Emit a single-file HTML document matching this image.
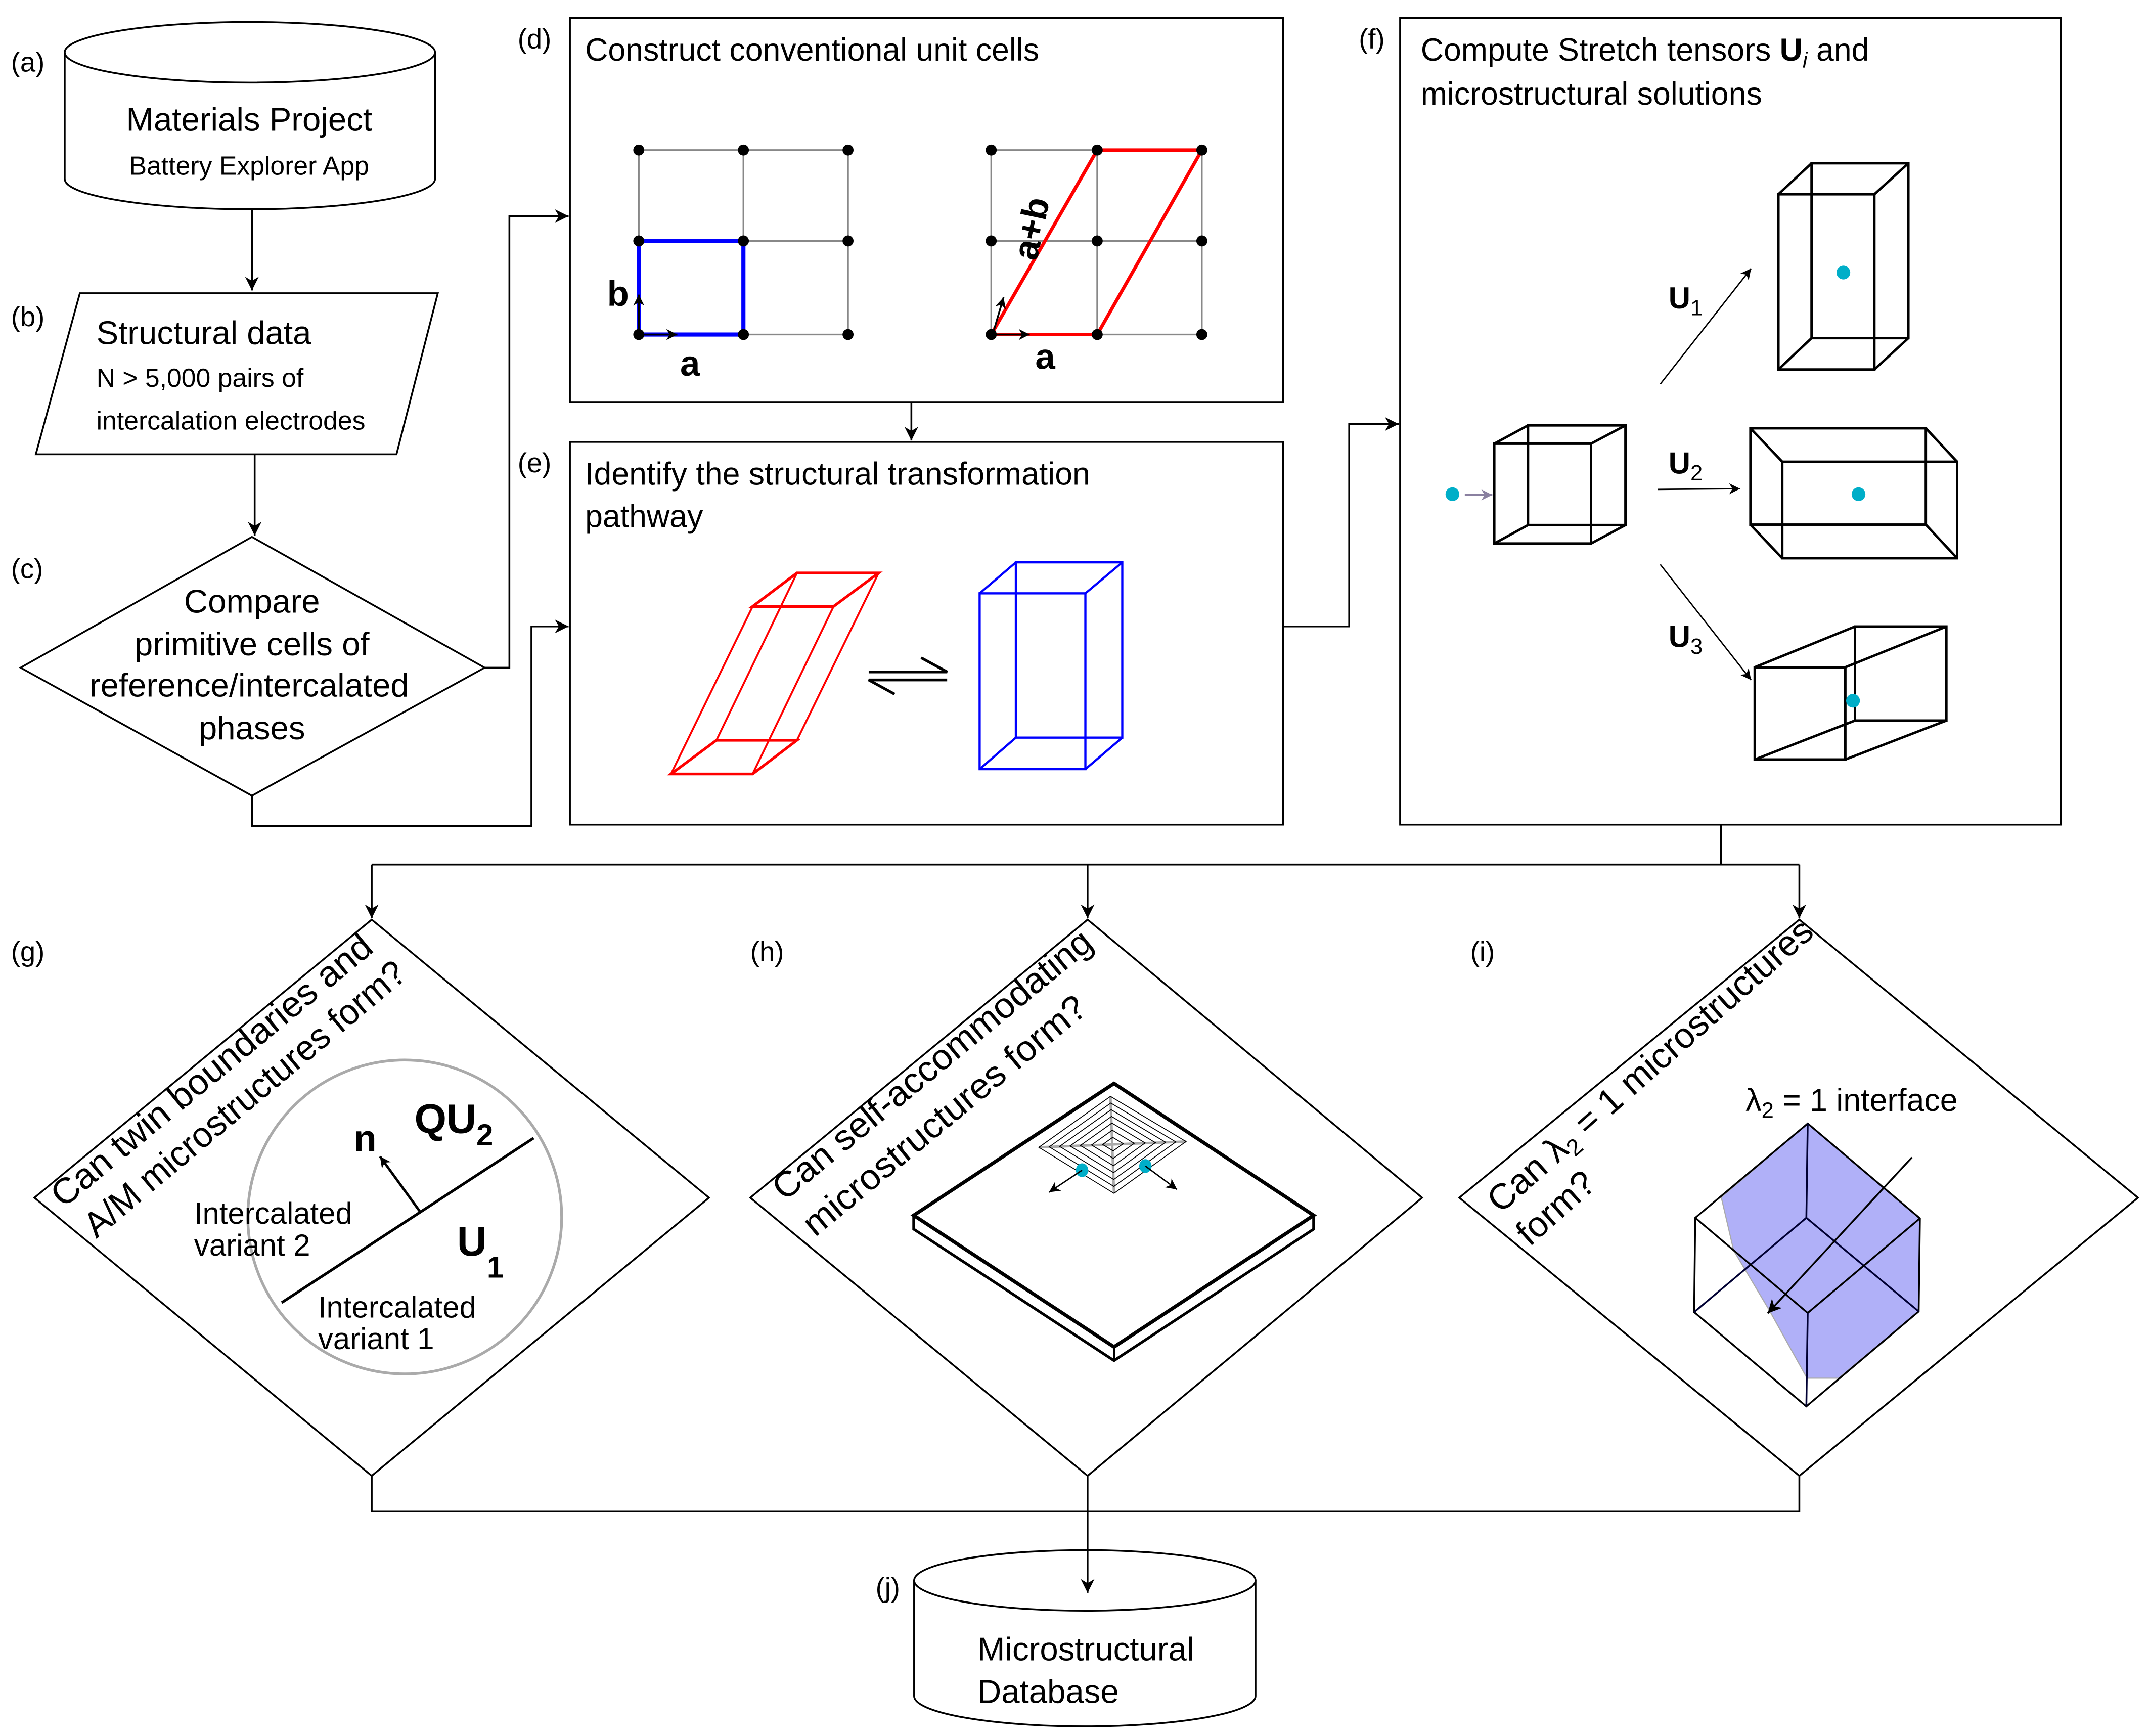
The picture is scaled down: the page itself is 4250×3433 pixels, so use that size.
<!DOCTYPE html>
<html><head><meta charset="utf-8"><style>
html,body{margin:0;padding:0;background:#fff}
svg{display:block}
text{font-family:"Liberation Sans",Arial,sans-serif;fill:#000}
</style></head><body>
<svg width="4250" height="3433" viewBox="0 0 1561 1261" preserveAspectRatio="none" xmlns="http://www.w3.org/2000/svg">
<defs>
<marker id="ah" viewBox="0 0 10 10" refX="10" refY="5" markerWidth="10" markerHeight="10" markerUnits="userSpaceOnUse" orient="auto"><path d="M0,0 L10,5 L0,10 L3,5 Z" fill="#000"/></marker>
<marker id="ahs" viewBox="0 0 10 10" refX="10" refY="5" markerWidth="8" markerHeight="8" markerUnits="userSpaceOnUse" orient="auto"><path d="M0,0 L10,5 L0,10 L3,5 Z" fill="#000"/></marker>
<marker id="ahg" viewBox="0 0 10 10" refX="10" refY="5" markerWidth="8" markerHeight="8" markerUnits="userSpaceOnUse" orient="auto"><path d="M0,0 L10,5 L0,10 L3,5 Z" fill="#8a80a0"/></marker>
</defs>
<g fill="none" stroke="#000" stroke-width="1.3">
<path d="M47,38 L47,130 A134.5,22 0 0 0 316,130 L316,38"/>
<ellipse cx="181.5" cy="38" rx="134.5" ry="22"/>
<line x1="183" y1="152" x2="183" y2="211" marker-end="url(#ah)"/>
<polygon points="58,213 318,213 288,330 26,330"/>
<line x1="185" y1="330" x2="185" y2="389" marker-end="url(#ah)"/>
<polygon points="183,390 352,485 183,578 15,485"/>
<polyline points="352,485 370,485 370,157 413,157" marker-end="url(#ah)"/>
<polyline points="183,578 183,600 386,600 386,455 413,455" marker-end="url(#ah)"/>
<rect x="414" y="13" width="518" height="279"/>
<line x1="662" y1="292" x2="662" y2="320" marker-end="url(#ah)"/>
<rect x="414" y="321" width="518" height="278"/>
<polyline points="932,455 980,455 980,308 1016,308" marker-end="url(#ah)"/>
<rect x="1017" y="13" width="480" height="586"/>
<line x1="1250" y1="599" x2="1250" y2="628"/>
<line x1="270" y1="628" x2="1307" y2="628"/>
<line x1="270" y1="628" x2="270" y2="667" marker-end="url(#ah)"/>
<line x1="790" y1="628" x2="790" y2="667" marker-end="url(#ah)"/>
<line x1="1307" y1="628" x2="1307" y2="667" marker-end="url(#ah)"/>
<polygon points="270,668 515,870 270,1072 25,870"/>
<polygon points="790,668 1033,870 790,1072 545,870"/>
<polygon points="1307,668 1553,870 1307,1072 1060,870"/>
<polyline points="270,1072 270,1098 1307,1098 1307,1072"/>
<line x1="790" y1="1072" x2="790" y2="1157" marker-end="url(#ah)"/>
<path d="M664,1148 L664,1232 A124,22 0 0 0 912,1232 L912,1148"/>
<ellipse cx="788" cy="1148" rx="124" ry="22"/>
</g>

<g font-size="20">
<text x="8" y="52">(a)</text>
<text x="8" y="237">(b)</text>
<text x="8" y="420">(c)</text>
<text x="376" y="35">(d)</text>
<text x="376" y="343">(e)</text>
<text x="987" y="35">(f)</text>
<text x="8" y="698">(g)</text>
<text x="545" y="698">(h)</text>
<text x="1068" y="698">(i)</text>
<text x="636" y="1160">(j)</text>
</g>
<text x="181" y="95" font-size="24" text-anchor="middle">Materials Project</text>
<text x="181" y="127" font-size="19" text-anchor="middle">Battery Explorer App</text>
<text x="70" y="250" font-size="24">Structural data</text>
<text x="70" y="281" font-size="19">N &gt; 5,000 pairs of</text>
<text x="70" y="312" font-size="19">intercalation electrodes</text>
<g font-size="24" text-anchor="middle">
<text x="183" y="445">Compare</text>
<text x="183" y="476">primitive cells of</text>
<text x="181" y="506">reference/intercalated</text>
<text x="183" y="537">phases</text>
</g>
<text x="425" y="44" font-size="23">Construct conventional unit cells</text>
<text x="425" y="352" font-size="23">Identify the structural transformation</text>
<text x="425" y="383" font-size="23">pathway</text>
<text x="1032" y="44" font-size="23">Compute Stretch tensors <tspan font-weight="bold">U</tspan><tspan font-style="italic" font-size="16" dy="5">i</tspan><tspan dy="-5"> and</tspan></text>
<text x="1032" y="76" font-size="23">microstructural solutions</text>
<text x="710" y="1206" font-size="24">Microstructural</text>
<text x="710" y="1237" font-size="24">Database</text>

<g stroke="#888" stroke-width="1.2">
<line x1="464" y1="109" x2="616" y2="109"/><line x1="464" y1="175" x2="616" y2="175"/><line x1="464" y1="243" x2="616" y2="243"/>
<line x1="464" y1="109" x2="464" y2="243"/><line x1="540" y1="109" x2="540" y2="243"/><line x1="616" y1="109" x2="616" y2="243"/>
<line x1="720" y1="109" x2="873" y2="109"/><line x1="720" y1="175" x2="873" y2="175"/><line x1="720" y1="243" x2="873" y2="243"/>
<line x1="720" y1="109" x2="720" y2="243"/><line x1="797" y1="109" x2="797" y2="243"/><line x1="873" y1="109" x2="873" y2="243"/>
</g>
<rect x="464" y="175" width="76" height="68" fill="none" stroke="#0000ff" stroke-width="3"/>
<polygon points="720,243 797,243 873,109 797,109" fill="none" stroke="#ff0000" stroke-width="2.5"/>
<g fill="#000">
<circle cx="464" cy="109" r="4"/><circle cx="540" cy="109" r="4"/><circle cx="616" cy="109" r="4"/>
<circle cx="464" cy="175" r="4"/><circle cx="540" cy="175" r="4"/><circle cx="616" cy="175" r="4"/>
<circle cx="464" cy="243" r="4"/><circle cx="540" cy="243" r="4"/><circle cx="616" cy="243" r="4"/>
<circle cx="720" cy="109" r="4"/><circle cx="797" cy="109" r="4"/><circle cx="873" cy="109" r="4"/>
<circle cx="720" cy="175" r="4"/><circle cx="797" cy="175" r="4"/><circle cx="873" cy="175" r="4"/>
<circle cx="720" cy="243" r="4"/><circle cx="797" cy="243" r="4"/><circle cx="873" cy="243" r="4"/>
</g>
<g stroke="#000" stroke-width="1.3">
<line x1="465" y1="243" x2="492" y2="243" marker-end="url(#ahs)"/>
<line x1="464" y1="243" x2="464" y2="214" marker-end="url(#ahs)"/>
<line x1="721" y1="243" x2="748" y2="243" marker-end="url(#ahs)"/>
<line x1="721" y1="243" x2="729" y2="216" marker-end="url(#ahs)"/>
</g>
<g font-size="26" font-weight="bold">
<text x="441" y="222">b</text>
<text x="494" y="273">a</text>
<text x="752" y="268">a</text>
<text x="0" y="0" transform="translate(753,190) rotate(-78)">a+b</text>
</g>

<g fill="none" stroke="#ff0000" stroke-width="1.4">
<polygon points="487.4,562.2 546.7,562.2 578.9,537.7 520.4,537.7" stroke-width="2"/>
<polygon points="546.7,440.5 605.5,440.5 638.2,416.2 578.9,416.2" stroke-width="2"/>
<line x1="487.4" y1="562.2" x2="546.7" y2="440.5"/>
<line x1="546.7" y1="562.2" x2="605.5" y2="440.5"/>
<line x1="578.9" y1="537.7" x2="638.2" y2="416.2"/>
<line x1="520.4" y1="537.7" x2="578.9" y2="416.2"/>
</g>
<g fill="none" stroke="#0000ff" stroke-width="1.6">
<rect x="711.6" y="431" width="76.8" height="127.7"/>
<rect x="737.9" y="408.5" width="77.3" height="127.3"/>
<line x1="711.6" y1="431" x2="737.9" y2="408.5"/>
<line x1="788.4" y1="431" x2="815.2" y2="408.5"/>
<line x1="711.6" y1="558.7" x2="737.9" y2="535.8"/>
<line x1="788.4" y1="558.7" x2="815.2" y2="535.8"/>
</g>
<g fill="none" stroke="#000" stroke-width="2">
<polyline points="631,488.1 688,488.1 669.1,477.8"/>
<polyline points="688,493.9 631,493.9 649.8,504.2"/>
</g>

<g fill="none" stroke="#000" stroke-width="1.8">
<rect x="1085.4" y="322.3" width="70.3" height="72.5"/>
<rect x="1109.9" y="309" width="70.8" height="72.4"/>
<line x1="1085.4" y1="322.3" x2="1109.9" y2="309"/><line x1="1155.7" y1="322.3" x2="1180.7" y2="309"/>
<line x1="1085.4" y1="394.8" x2="1109.9" y2="381.4"/><line x1="1155.7" y1="394.8" x2="1180.7" y2="381.4"/>
<rect x="1291.8" y="141.1" width="69.7" height="127.3"/>
<rect x="1315.9" y="118.6" width="70.3" height="127"/>
<line x1="1291.8" y1="141.1" x2="1315.9" y2="118.6"/><line x1="1361.5" y1="141.1" x2="1386.2" y2="118.6"/>
<line x1="1291.8" y1="268.4" x2="1315.9" y2="245.6"/><line x1="1361.5" y1="268.4" x2="1386.2" y2="245.6"/>
<rect x="1271.5" y="311.1" width="127.4" height="70"/>
<rect x="1294.6" y="335.4" width="127" height="70.1"/>
<line x1="1271.5" y1="311.1" x2="1294.6" y2="335.4"/><line x1="1398.9" y1="311.1" x2="1421.6" y2="335.4"/>
<line x1="1271.5" y1="381.1" x2="1294.6" y2="405.5"/><line x1="1398.9" y1="381.1" x2="1421.6" y2="405.5"/>
<rect x="1274.6" y="484.7" width="65.8" height="67"/>
<rect x="1347.4" y="455.1" width="66.4" height="68.3"/>
<line x1="1274.6" y1="484.7" x2="1347.4" y2="455.1"/><line x1="1340.4" y1="484.7" x2="1413.8" y2="455.1"/>
<line x1="1274.6" y1="551.7" x2="1347.4" y2="523.4"/><line x1="1340.4" y1="551.7" x2="1413.8" y2="523.4"/>
</g>
<g fill="#00aec8">
<circle cx="1055" cy="359" r="5"/>
<circle cx="1339" cy="198" r="5"/>
<circle cx="1350" cy="359" r="5"/>
<circle cx="1346" cy="509" r="5"/>
</g>
<line x1="1064" y1="359.5" x2="1084" y2="359.5" stroke="#8a80a0" stroke-width="1.3" marker-end="url(#ahg)"/>
<g stroke="#000" stroke-width="1">
<line x1="1206" y1="279" x2="1272" y2="195" marker-end="url(#ahs)"/>
<line x1="1204" y1="355.5" x2="1264" y2="355" marker-end="url(#ahs)"/>
<line x1="1206" y1="410" x2="1272" y2="494" marker-end="url(#ahs)"/>
</g>
<g font-size="22" font-weight="bold">
<text x="1212" y="224">U<tspan font-weight="normal" font-size="16" dy="5">1</tspan></text>
<text x="1212" y="344">U<tspan font-weight="normal" font-size="16" dy="5">2</tspan></text>
<text x="1212" y="470">U<tspan font-weight="normal" font-size="16" dy="5">3</tspan></text>
</g>

<g font-size="26">
<text x="0" y="0" transform="translate(46,878) rotate(-39.6)" textLength="294" lengthAdjust="spacingAndGlyphs">Can twin boundaries and</text>
<text x="0" y="0" transform="translate(70,900) rotate(-40)" textLength="296" lengthAdjust="spacingAndGlyphs">A/M microstructures form?</text>
</g>
<circle cx="294" cy="884" r="114" fill="none" stroke="#aaa" stroke-width="2"/>
<line x1="204.6" y1="946.2" x2="387.6" y2="826.7" stroke="#000" stroke-width="2"/>
<line x1="305" y1="880" x2="276" y2="840" stroke="#000" stroke-width="1.8" marker-end="url(#ahs)"/>
<text x="257" y="836" font-size="27" font-weight="bold">n</text>
<text x="301" y="823" font-size="30" font-weight="bold">QU<tspan font-size="22" dy="9">2</tspan></text>
<text x="332" y="912" font-size="30" font-weight="bold">U<tspan font-size="22" dy="16">1</tspan></text>
<g font-size="22">
<text x="141" y="889">Intercalated</text>
<text x="141" y="912">variant 2</text>
<text x="231" y="957">Intercalated</text>
<text x="231" y="980">variant 1</text>
</g>

<g font-size="26">
<text x="0" y="0" transform="translate(570,873) rotate(-39.5)" textLength="292" lengthAdjust="spacingAndGlyphs">Can self-accommodating</text>
<text x="0" y="0" transform="translate(592,899) rotate(-39.5)" textLength="258" lengthAdjust="spacingAndGlyphs">microstructures form?</text>
</g>
<g fill="none" stroke="#000">
<polygon points="809.2,787 954.2,882.8 809.2,978.4 663.7,882.8" stroke-width="2.6" fill="#fff"/>
<polyline points="663.7,882.8 663.7,892.8 809.2,988.3 954.2,892.8 954.2,882.8" stroke-width="2"/>
<line x1="809.2" y1="978.4" x2="809.2" y2="988.3" stroke-width="1.5"/>
</g>
<g stroke="#aaa" stroke-width="1.8">
<line x1="806.6" y1="796.4" x2="809.2" y2="866.8"/>
<line x1="754.6" y1="833.4" x2="861.5" y2="829.2"/>
</g>
<g fill="none" stroke="#000" stroke-width="1.7">
<g transform="translate(808.5,831)"><polygon vector-effect="non-scaling-stroke" points="-1.9,-34.6 53,-1.8 0.7,35.8 -53.9,2.4"/></g>
<g transform="translate(808.5,831) scale(0.86)"><polygon vector-effect="non-scaling-stroke" points="-1.9,-34.6 53,-1.8 0.7,35.8 -53.9,2.4"/></g>
<g transform="translate(808.5,831) scale(0.72)"><polygon vector-effect="non-scaling-stroke" points="-1.9,-34.6 53,-1.8 0.7,35.8 -53.9,2.4"/></g>
<g transform="translate(808.5,831) scale(0.58)"><polygon vector-effect="non-scaling-stroke" points="-1.9,-34.6 53,-1.8 0.7,35.8 -53.9,2.4"/></g>
<g transform="translate(808.5,831) scale(0.44)"><polygon vector-effect="non-scaling-stroke" points="-1.9,-34.6 53,-1.8 0.7,35.8 -53.9,2.4"/></g>
<g transform="translate(808.5,831) scale(0.29)"><polygon vector-effect="non-scaling-stroke" points="-1.9,-34.6 53,-1.8 0.7,35.8 -53.9,2.4"/></g>
<g transform="translate(808.5,831) scale(0.14)"><polygon vector-effect="non-scaling-stroke" points="-1.9,-34.6 53,-1.8 0.7,35.8 -53.9,2.4"/></g>
</g>
<g fill="#00aec8"><ellipse cx="786" cy="850" rx="4.5" ry="5"/><ellipse cx="832" cy="847" rx="4.5" ry="5"/></g>
<g stroke="#000" stroke-width="1">
<line x1="786" y1="850" x2="762" y2="866" marker-end="url(#ahs)"/>
<line x1="832" y1="847" x2="855" y2="864" marker-end="url(#ahs)"/>
</g>

<g font-size="26">
<text x="0" y="0" transform="translate(1090,882) rotate(-41.6)" textLength="306" lengthAdjust="spacingAndGlyphs">Can λ<tspan font-size="17" dy="5">2</tspan><tspan dy="-5"> = 1 microstructures</tspan></text>
<text x="0" y="0" transform="translate(1111,906) rotate(-41.6)">form?</text>
</g>
<text x="1268" y="807" font-size="23">λ<tspan font-size="16" dy="5">2</tspan><tspan dy="-5"> = 1 interface</tspan></text>
<polygon points="1250.3,869.7 1313.1,816.1 1394.6,885 1393.7,952.6 1335.5,1001.1 1312.6,1001.1 1285.5,952.3 1259.3,908.3" fill="#b0b0f8" stroke="#aaa" stroke-width="0.8"/>
<g fill="none" stroke="#000" stroke-width="1.3">
<polygon points="1313.1,816.1 1394.6,885 1393.7,952.6 1312.1,1021.6 1230.6,953.1 1231.4,884.6"/>
<line x1="1313.1" y1="816.1" x2="1312.1" y2="884.6" stroke="#003"/>
<line x1="1312.1" y1="884.6" x2="1230.6" y2="953.1" stroke="#003"/>
<line x1="1312.1" y1="884.6" x2="1393.7" y2="952.6" stroke="#003"/>
<line x1="1231.4" y1="884.6" x2="1313.1" y2="953.7"/>
<line x1="1394.6" y1="885" x2="1313.1" y2="953.7"/>
<line x1="1313.1" y1="953.7" x2="1312.1" y2="1021.6" stroke="#003"/>
<line x1="1388.8" y1="840.7" x2="1284" y2="954" marker-end="url(#ah)"/>
</g>
</svg>
</body></html>
